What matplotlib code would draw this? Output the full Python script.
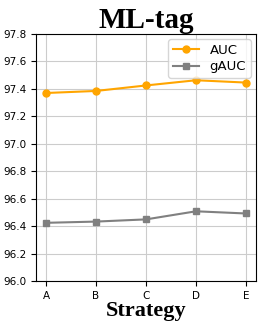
import matplotlib
matplotlib.use('Agg')
import matplotlib.pyplot as plt

strategies = ['A', 'B', 'C', 'D', 'E']
auc = [97.37, 97.385, 97.425, 97.463, 97.446]
gauc = [96.424, 96.433, 96.449, 96.508, 96.492]

fig = plt.figure(figsize=(2.66, 3.32), dpi=100)
ax = fig.add_axes([36 / 266, 51 / 332, 220 / 266, 247 / 332])

x = range(len(strategies))
ax.plot(x, auc, color='orange', marker='o', markersize=5, label='AUC')
ax.plot(x, gauc, color='gray', marker='s', markersize=5, label='gAUC')

ax.set_ylim(96.0, 97.8)
ax.set_yticks([96.0 + 0.2 * i for i in range(10)])
ax.set_xticks(list(x))
ax.set_xticklabels(strategies)
ax.tick_params(labelsize=7.5)
ax.grid(True, color='#cccccc')
ax.set_axisbelow(True)

ax.set_title('ML-tag', fontsize=21, fontweight='bold', family='Liberation Serif', pad=2)
ax.set_xlabel('Strategy', fontsize=16, fontweight='bold', family='Liberation Serif', labelpad=0)
ax.legend(loc='upper right', fontsize=9.5, labelspacing=0.25, borderpad=0.35,
          handletextpad=0.8, borderaxespad=0.4)

fig.savefig('out.png', dpi=100)
